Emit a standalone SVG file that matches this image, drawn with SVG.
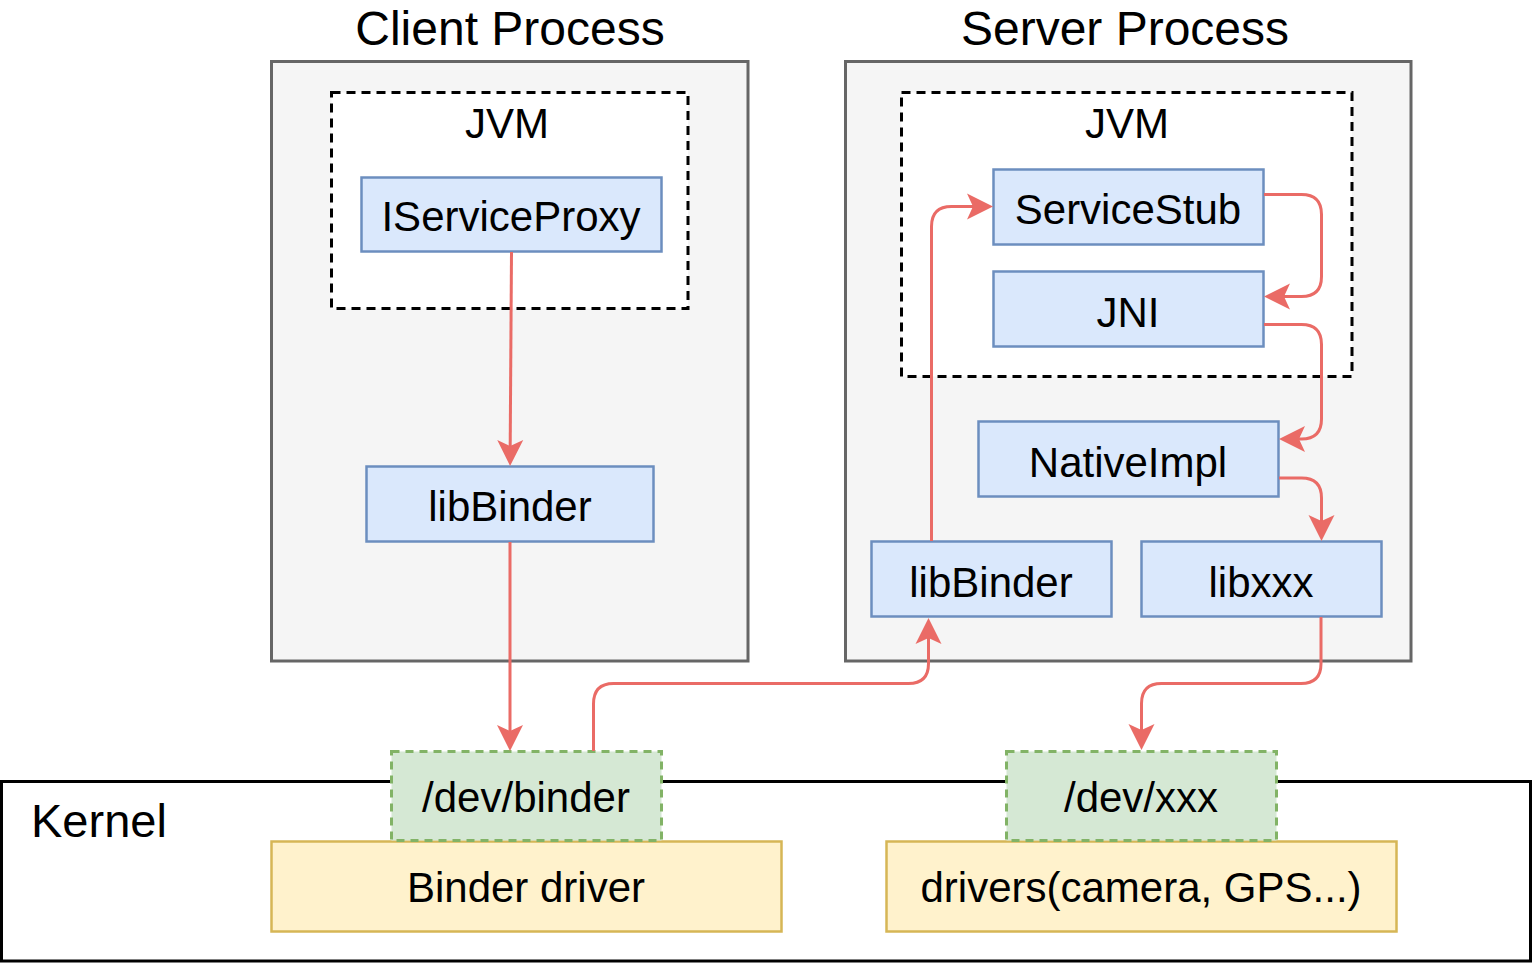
<svg xmlns="http://www.w3.org/2000/svg" width="1533" height="966" viewBox="0 0 1533 966">
<style>
text{font-family:"Liberation Sans",Arial,Helvetica,sans-serif;fill:#000;text-anchor:middle}
.title{font-size:48px}
.lbl{font-size:42px}
.proc{fill:#f5f5f5;stroke:#666666;stroke-width:3}
.jvm{fill:#ffffff;stroke:#000;stroke-width:3;stroke-dasharray:9 6}
.blue{fill:#dae8fc;stroke:#6c8ebf;stroke-width:2.5}
.green{fill:#d5e8d4;stroke:#82b366;stroke-width:3;stroke-dasharray:8 6}
.yellow{fill:#fff2cc;stroke:#d6b656;stroke-width:2.5}
.conn path{fill:none;stroke:#ea6b66;stroke-width:3;marker-end:url(#arr)}
</style>
<defs>
<marker id="arr" markerUnits="userSpaceOnUse" viewBox="-27 -14 28 28" markerWidth="28" markerHeight="28" refX="-20" refY="0" orient="auto">
<path d="M0,0 L-26,-13 L-20,0 L-26,13 Z" fill="#ea6b66"/>
</marker>
</defs>
<rect x="0" y="0" width="1533" height="966" fill="#ffffff"/>

<g id="kernel">
<rect x="1.5" y="781.5" width="1529" height="179.5" fill="#ffffff" stroke="#000" stroke-width="3"/>
<text x="31" y="837" style="text-anchor:start;font-size:47px">Kernel</text>
</g>

<g id="client-process">
<text class="title" x="510" y="45">Client Process</text>
<rect class="proc" x="271.5" y="61.5" width="476.5" height="599.5"/>
</g>
<g id="client-jvm">
<rect class="jvm" x="331.5" y="92.5" width="356.5" height="216"/>
<text class="lbl" x="507" y="138">JVM</text>
</g>
<g id="iserviceproxy">
<rect class="blue" x="361.5" y="177.5" width="300" height="74"/>
<text class="lbl" x="511" y="231">IServiceProxy</text>
</g>
<g id="client-libbinder">
<rect class="blue" x="366.5" y="466.5" width="287" height="75"/>
<text class="lbl" x="510" y="521">libBinder</text>
</g>

<g id="server-process">
<text class="title" x="1125" y="45">Server Process</text>
<rect class="proc" x="845.5" y="61.5" width="565.5" height="599.5"/>
</g>
<g id="server-jvm">
<rect class="jvm" x="901.5" y="92.5" width="450.5" height="284"/>
<text class="lbl" x="1127" y="138">JVM</text>
</g>
<g id="servicestub">
<rect class="blue" x="993.5" y="169.5" width="270" height="75"/>
<text class="lbl" x="1128" y="224">ServiceStub</text>
</g>
<g id="jni">
<rect class="blue" x="993.5" y="271.5" width="270" height="75"/>
<text class="lbl" x="1128" y="327">JNI</text>
</g>
<g id="nativeimpl">
<rect class="blue" x="978.5" y="421.5" width="300" height="75"/>
<text class="lbl" x="1128" y="477">NativeImpl</text>
</g>
<g id="server-libbinder">
<rect class="blue" x="871.5" y="541.5" width="240" height="75"/>
<text class="lbl" x="991" y="597">libBinder</text>
</g>
<g id="libxxx">
<rect class="blue" x="1141.5" y="541.5" width="240" height="75"/>
<text class="lbl" x="1261" y="597">libxxx</text>
</g>

<g id="binder-driver">
<rect class="yellow" x="271.5" y="841.5" width="510" height="90"/>
<text class="lbl" x="526" y="902">Binder driver</text>
</g>
<g id="dev-binder">
<rect class="green" x="391.5" y="751.5" width="270" height="89"/>
<text class="lbl" x="526" y="812">/dev/binder</text>
</g>
<g id="drivers">
<rect class="yellow" x="886.5" y="841.5" width="510" height="90"/>
<text class="lbl" x="1141" y="902">drivers(camera, GPS...)</text>
</g>
<g id="dev-xxx">
<rect class="green" x="1006.5" y="751.5" width="270" height="89"/>
<text class="lbl" x="1141" y="812">/dev/xxx</text>
</g>

<g id="connectors" class="conn">
<path d="M511.5,252 L510.2,446"/>
<path d="M510,542 L510,731"/>
<path d="M593.5,751 L593.5,704 Q593.5,683.5 613.5,683.5 L908.5,683.5 Q928.5,683.5 928.5,663.5 L928.5,638"/>
<path d="M931.5,541 L931.5,226.5 Q931.5,206.5 951.5,206.5 L973,206.5"/>
<path d="M1264,194.5 L1301.5,194.5 Q1321.5,194.5 1321.5,214.5 L1321.5,276.5 Q1321.5,296.5 1301.5,296.5 L1284,296.5"/>
<path d="M1264,324.5 L1301.5,324.5 Q1321.5,324.5 1321.5,344.5 L1321.5,419 Q1321.5,439 1301.5,439 L1299,439"/>
<path d="M1279,478 L1301.5,478 Q1321.5,478 1321.5,498 L1321.5,521"/>
<path d="M1321,617 L1321,663.5 Q1321,683.5 1301,683.5 L1161.5,683.5 Q1141.5,683.5 1141.5,703.5 L1141.5,730"/>
</g>
</svg>
